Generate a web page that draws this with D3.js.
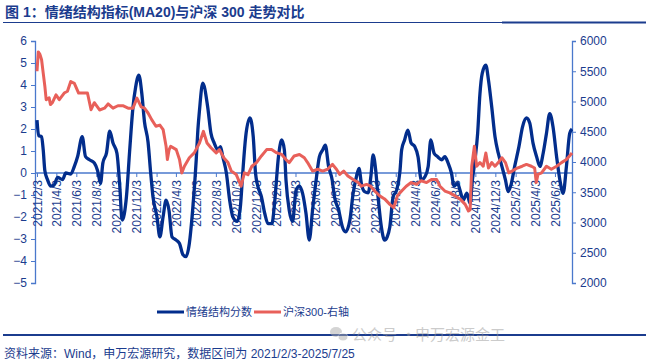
<!DOCTYPE html>
<html>
<head>
<meta charset="utf-8">
<script src="https://cdn.jsdelivr.net/npm/d3@7"></script>
<style>
  body { margin: 0; background: #fff; }
  svg { display: block; font-family: "Liberation Sans", Arial, "Noto Sans CJK SC", sans-serif; }
</style>
</head>
<body>
<div class="chart"></div>
<script>
var width = 646;
var height = 362;

// 情绪结构分数 (左轴)
var moodDates = ['2021-02-03','2021-02-08','2021-02-17','2021-02-22','2021-02-27','2021-03-07','2021-03-17','2021-03-27','2021-04-07','2021-04-22',
  '2021-05-02','2021-05-17','2021-05-28','2021-06-07','2021-06-21','2021-07-01','2021-07-13','2021-07-28','2021-08-07','2021-08-16',
  '2021-08-23','2021-09-03','2021-09-13','2021-09-23','2021-10-05','2021-10-13','2021-10-21','2021-11-03','2021-11-13','2021-11-23',
  '2021-12-01','2021-12-11','2021-12-20','2021-12-28','2022-01-08','2022-01-16','2022-01-23','2022-02-04','2022-02-13','2022-02-23',
  '2022-03-04','2022-03-13','2022-03-22','2022-04-04','2022-04-14','2022-04-24','2022-05-04','2022-05-14','2022-05-24','2022-06-04',
  '2022-06-09','2022-06-14','2022-06-24','2022-07-09','2022-07-19','2022-07-29','2022-08-09','2022-08-17','2022-08-24','2022-09-04',
  '2022-09-14','2022-09-24','2022-10-07','2022-10-17','2022-10-24','2022-11-02','2022-11-15','2022-11-25','2022-12-02','2022-12-09',
  '2022-12-20','2022-12-30','2023-01-09','2023-01-21','2023-01-30','2023-02-10','2023-02-20','2023-02-28','2023-03-05','2023-03-15',
  '2023-03-25','2023-04-05','2023-04-15','2023-04-25','2023-05-05','2023-05-15','2023-05-25','2023-06-05','2023-06-15','2023-06-25',
  '2023-07-03','2023-07-13','2023-07-24','2023-07-31','2023-08-13','2023-08-24','2023-09-03','2023-09-16','2023-09-26','2023-10-06',
  '2023-10-14','2023-10-21','2023-10-31','2023-11-11','2023-11-19','2023-11-26','2023-12-04','2023-12-11','2023-12-21','2023-12-31',
  '2024-01-08','2024-01-16','2024-01-26','2024-02-06','2024-02-16','2024-02-21','2024-03-01','2024-03-11','2024-03-21','2024-04-01',
  '2024-04-11','2024-04-21','2024-05-02','2024-05-12','2024-05-20','2024-05-30','2024-06-10','2024-06-22','2024-07-02','2024-07-12',
  '2024-07-22','2024-07-30','2024-08-10','2024-08-17','2024-08-27','2024-09-07','2024-09-17','2024-09-24','2024-10-02','2024-10-10',
  '2024-10-17','2024-10-24','2024-11-04','2024-11-12','2024-11-22','2024-12-02','2024-12-12','2024-12-23','2025-01-03','2025-01-11',
  '2025-01-21','2025-01-31','2025-02-13','2025-02-24','2025-03-08','2025-03-18','2025-03-28','2025-04-08','2025-04-18','2025-04-28',
  '2025-05-08','2025-05-18','2025-05-28','2025-06-08','2025-06-18','2025-06-28','2025-07-08','2025-07-18','2025-07-25'];
var moodValues = [2.4,1.7,1.65,1.05,0.1,-0.3,-0.6,-0.55,-0.2,-0.3,
  0.0,-0.05,0.3,0.75,1.65,0.75,0.6,0.45,0.1,-0.47,
  0.45,0.9,1.9,1.36,0.9,-0.45,-2.14,-1.08,1.05,3.0,
  3.9,4.45,3.6,2.33,1.4,0.0,-1.08,-1.98,-2.9,-1.98,
  -1.23,-1.7,-2.9,-3.05,-3.2,-3.7,-3.8,-3.2,-1.7,0.6,
  1.95,2.86,4.08,3.0,1.8,1.36,1.05,1.2,0.74,0.0,
  -1.23,-2.0,-2.2,-1.5,0.0,1.65,2.5,1.65,0.0,-0.6,
  -1.08,-1.83,-2.3,-2.3,-1.23,0.74,1.5,1.05,-0.32,-1.7,
  -2.2,-0.77,-0.6,-0.95,-1.83,-3.05,-1.7,-0.32,0.74,1.05,
  1.27,0.3,-0.32,-1.08,-1.7,-2.44,-2.67,-2.14,-0.92,-0.17,
  0.21,-0.47,-0.85,-0.9,-0.17,0.82,0.1,-1.08,-2.44,-3.05,
  -2.9,-2.44,-1.08,-0.77,0.1,1.05,1.5,1.95,1.36,1.2,
  0.74,-0.32,-0.17,0.3,1.5,0.9,0.74,0.6,0.74,0.45,
  0.0,-0.6,-0.47,-0.77,-1.23,-0.92,-1.38,-0.32,0.6,1.8,
  3.6,4.53,4.9,4.23,3.0,1.65,0.9,0.3,-0.32,-0.85,
  -0.47,0.3,1.2,2.1,2.5,2.27,1.36,0.74,0.3,0.9,
  1.8,2.7,2.1,0.74,-0.32,-0.92,0.3,1.8,2.0];

// 沪深300 (右轴)
var hsDates = ['2021-02-03','2021-02-07','2021-02-12','2021-02-17','2021-02-22','2021-02-27','2021-03-03','2021-03-12','2021-03-16','2021-03-22',
  '2021-04-02','2021-04-12','2021-04-27','2021-05-07','2021-05-17','2021-05-28','2021-06-10','2021-06-22','2021-07-07','2021-07-18',
  '2021-07-28','2021-08-13','2021-08-28','2021-09-08','2021-09-23','2021-10-08','2021-10-23','2021-11-08','2021-11-23','2021-12-05',
  '2021-12-18','2021-12-28','2022-01-08','2022-01-19','2022-02-01','2022-02-13','2022-02-23','2022-03-04','2022-03-08','2022-03-13',
  '2022-03-18','2022-04-04','2022-04-14','2022-04-21','2022-04-29','2022-05-14','2022-05-29','2022-06-14','2022-06-26','2022-07-07',
  '2022-07-19','2022-08-04','2022-08-14','2022-08-27','2022-09-09','2022-09-19','2022-10-04','2022-10-19','2022-10-29','2022-11-09',
  '2022-11-21','2022-12-05','2022-12-20','2023-01-05','2023-01-20','2023-02-05','2023-02-20','2023-03-05','2023-03-15','2023-03-30',
  '2023-04-15','2023-04-30','2023-05-10','2023-05-25','2023-06-10','2023-06-25','2023-07-10','2023-07-25','2023-08-06','2023-08-16',
  '2023-08-28','2023-09-10','2023-09-26','2023-10-11','2023-10-21','2023-11-06','2023-11-18','2023-12-01','2023-12-16','2023-12-31',
  '2024-01-16','2024-01-28','2024-02-08','2024-02-21','2024-03-06','2024-03-21','2024-04-06','2024-04-21','2024-05-07','2024-05-22',
  '2024-06-07','2024-06-17','2024-07-02','2024-07-17','2024-08-02','2024-08-17','2024-09-02','2024-09-12','2024-09-17','2024-09-22',
  '2024-09-30','2024-10-07','2024-10-17','2024-10-27','2024-11-04','2024-11-12','2024-11-22','2024-12-02','2024-12-12','2024-12-23',
  '2025-01-03','2025-01-13','2025-01-23','2025-02-08','2025-02-23','2025-03-08','2025-03-23','2025-04-02','2025-04-07','2025-04-12',
  '2025-04-23','2025-05-08','2025-05-23','2025-06-08','2025-06-23','2025-07-08','2025-07-25'];
var hsValues = [5500,5820,5780,5690,5470,5250,5030,5060,4950,4980,
  5110,5030,5140,5170,5330,5300,5140,5140,5140,4864,
  4980,4860,4890,4960,4890,4930,4930,4890,4890,5056,
  4910,4890,4810,4700,4590,4610,4535,4260,4040,4200,
  4260,4205,4040,3820,3930,4070,4150,4315,4507,4315,
  4235,4150,4205,4070,3990,3850,3795,3600,3820,3790,
  3930,3990,4100,4205,4205,4150,4125,4040,3990,4100,
  4125,4070,3990,3850,3880,3850,3880,3960,3880,3795,
  3850,3770,3710,3660,3600,3630,3600,3520,3440,3390,
  3300,3245,3440,3520,3600,3660,3630,3690,3660,3710,
  3710,3600,3520,3490,3440,3390,3300,3190,3210,3930,
  4260,3930,3990,3930,4150,3900,3990,3930,3990,4070,
  3990,3820,3850,3900,3930,3960,3930,3900,3660,3795,
  3820,3930,3880,3930,3990,4040,4150];

var xTickLabels = ['2021/2/3','2021/4/3','2021/6/3','2021/8/3','2021/10/3','2021/12/3','2022/2/3','2022/4/3','2022/6/3',
  '2022/8/3','2022/10/3','2022/12/3','2023/2/3','2023/4/3','2023/6/3','2023/8/3','2023/10/3','2023/12/3','2024/2/3',
  '2024/4/3','2024/6/3','2024/8/3','2024/10/3','2024/12/3','2025/2/3','2025/4/3','2025/6/3'];
var leftTicks = [6,5,4,3,2,1,0,-1,-2,-3,-4,-5];
var rightTicks = [6000,5500,5000,4500,4000,3500,3000,2500,2000];

var navy = '#1b3c8e';
var axisBlue = '#4a78cc';
var blueLine = '#022d8c';
var redLine = '#e8605a';
var mixFont = '"Liberation Sans", Arial, "Noto Sans CJK SC", sans-serif';

var parse = d3.timeParse('%Y-%m-%d');
var parseTick = d3.timeParse('%Y/%m/%d');

var mood = moodDates.map(function(d, i){ return {date: parse(d), value: moodValues[i]}; });
var hs = hsDates.map(function(d, i){ return {date: parse(d), value: hsValues[i]}; });

var svg = d3.select('.chart')
  .append('svg')
  .attr('width', width)
  .attr('height', height);

// title
svg.append('text')
  .attr('x', 5).attr('y', 17)
  .attr('fill', navy)
  .attr('font-size', 14)
  .attr('font-weight', 'bold')
  .attr('font-family', mixFont)
  .text('图 1：情绪结构指标(MA20)与沪深 300 走势对比');
svg.append('line').attr('x1', 3).attr('x2', 646).attr('y1', 22.5).attr('y2', 22.5)
  .attr('stroke', navy).attr('stroke-width', 1.2);
svg.append('line').attr('x1', 502).attr('x2', 646).attr('y1', 22.5).attr('y2', 22.5)
  .attr('stroke', navy).attr('stroke-width', 2);

var x = d3.scaleTime()
  .domain([parse('2021-02-03'), parse('2025-07-25')])
  .range([37, 572]);
var yL = d3.scaleLinear().domain([-5, 6]).range([283, 41]);
var yR = d3.scaleLinear().domain([2000, 6000]).range([283, 41]);

// left axis
var gL = svg.append('g')
  .attr('transform', 'translate(35,0)')
  .call(d3.axisLeft(yL).tickValues(leftTicks).tickSize(4).tickPadding(4).tickFormat(d3.format('d')));
// right axis
var gR = svg.append('g')
  .attr('transform', 'translate(572,0)')
  .call(d3.axisRight(yR).tickValues(rightTicks).tickSize(4).tickPadding(4).tickFormat(d3.format('d')));

[gL, gR].forEach(function(g){
  g.select('.domain').attr('stroke', axisBlue).attr('stroke-width', 1.3);
  g.selectAll('.tick line').attr('stroke', axisBlue);
  g.selectAll('.tick text').attr('fill', navy).attr('font-size', 12)
    .attr('font-family', '"Liberation Sans", Arial, sans-serif');
});

// x axis along zero
var gX = svg.append('g')
  .attr('transform', 'translate(0,' + yL(0) + ')')
  .call(d3.axisBottom(x)
    .tickValues(xTickLabels.map(function(d){ return parseTick(d); }))
    .tickSize(4)
    .tickFormat(function(d, i){ return xTickLabels[i]; }));
gX.select('.domain').attr('stroke', axisBlue).attr('stroke-width', 1.3)
  .attr('d', 'M35,0H572');
gX.selectAll('.tick line').attr('stroke', axisBlue);
gX.selectAll('.tick text')
  .attr('fill', navy).attr('font-size', 12)
  .attr('font-family', '"Liberation Sans", Arial, sans-serif')
  .attr('text-anchor', 'end')
  .attr('dy', '0.35em')
  .attr('transform', 'translate(0,3) rotate(-90)')
  .attr('x', -4).attr('y', 0);

// lines
var lineL = d3.line().x(function(d){ return x(d.date); }).y(function(d){ return yL(d.value); }).curve(d3.curveMonotoneX);
var lineR = d3.line().x(function(d){ return x(d.date); }).y(function(d){ return yR(d.value); });

svg.append('path').datum(mood)
  .attr('d', lineL)
  .attr('fill', 'none')
  .attr('stroke', blueLine)
  .attr('stroke-width', 3.3)
  .attr('stroke-linejoin', 'round');

svg.append('path').datum(hs)
  .attr('d', lineR)
  .attr('fill', 'none')
  .attr('stroke', redLine)
  .attr('stroke-width', 3)
  .attr('stroke-linejoin', 'round');

// legend
var legend = [{name: '情绪结构分数', color: blueLine, x: 157}, {name: '沪深300-右轴', color: redLine, x: 254}];
legend.forEach(function(l){
  svg.append('line').attr('x1', l.x).attr('x2', l.x + 27).attr('y1', 312).attr('y2', 312)
    .attr('stroke', l.color).attr('stroke-width', 3);
  svg.append('text').attr('x', l.x + 29).attr('y', 316)
    .attr('fill', navy).attr('font-size', 11)
    .attr('font-family', mixFont)
    .text(l.name);
});

// bottom rule
svg.append('line').attr('x1', 3).attr('x2', 646).attr('y1', 335).attr('y2', 335)
  .attr('stroke', navy).attr('stroke-width', 2);

// watermark
var wm = svg.append('g').attr('opacity', 0.5);
wm.append('ellipse').attr('cx', 336).attr('cy', 332).attr('rx', 6).attr('ry', 5).attr('fill', '#aaa');
wm.append('ellipse').attr('cx', 343).attr('cy', 337).attr('rx', 5).attr('ry', 4).attr('fill', '#aaa').attr('stroke', '#fff').attr('stroke-width', 1);
wm.append('text').attr('x', 352).attr('y', 340)
  .attr('fill', '#999').attr('font-size', 15)
  .attr('font-family', '"Noto Sans CJK SC", sans-serif')
  .text('公众号');
wm.append('text').attr('x', 401).attr('y', 340)
  .attr('fill', '#999').attr('font-size', 15)
  .attr('font-family', '"Noto Sans CJK SC", sans-serif')
  .text('·');
wm.append('text').attr('x', 415).attr('y', 340)
  .attr('fill', '#999').attr('font-size', 15)
  .attr('font-family', '"Noto Sans CJK SC", sans-serif')
  .text('申万宏源金工');

// source
svg.append('text').attr('x', 4).attr('y', 358)
  .attr('fill', navy).attr('font-size', 12)
  .attr('font-family', mixFont)
  .text('资料来源：Wind，申万宏源研究，数据区间为 2021/2/3-2025/7/25');
</script>
</body>
</html>
